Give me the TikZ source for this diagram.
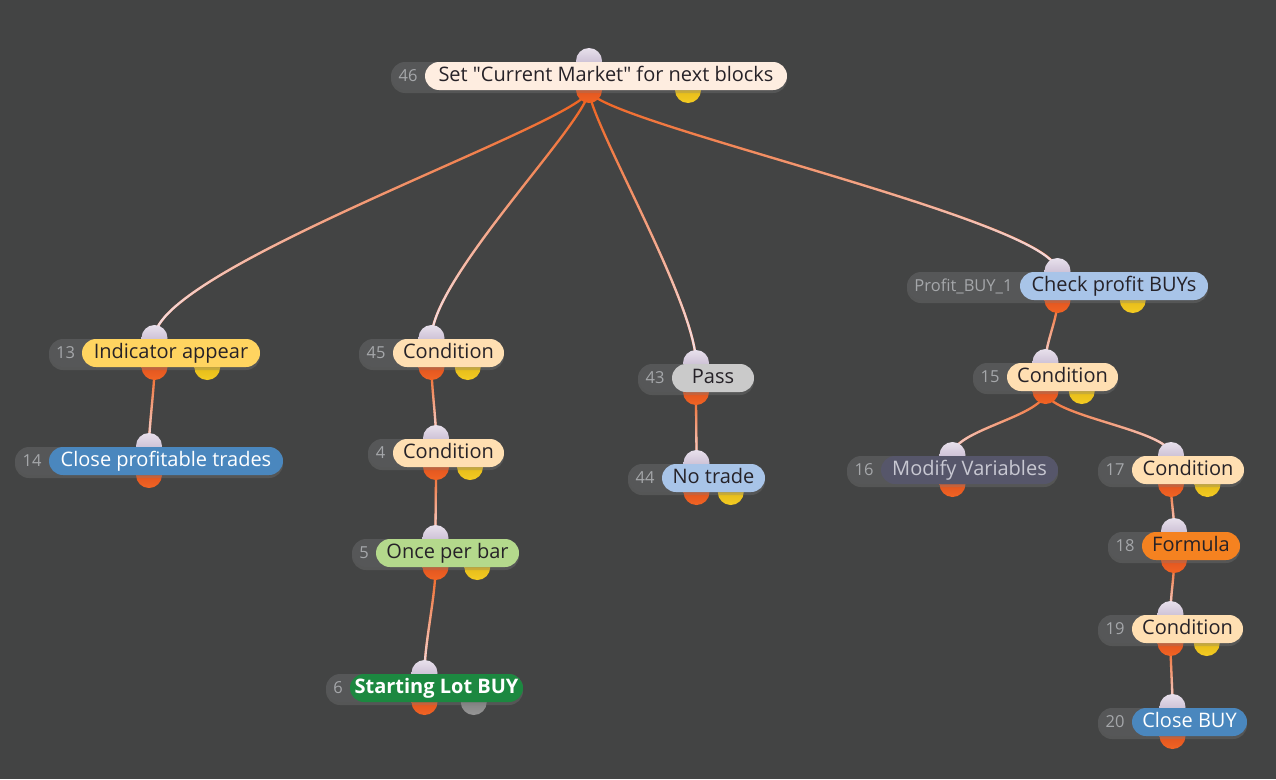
\documentclass[tikz,border=0pt]{standalone}
\usepackage{fontspec}
\setmainfont{Open Sans}
\usepackage{tikz}
\usetikzlibrary{fadings,shadows}
\definecolor{canvas}{RGB}{67,68,68}
\definecolor{blockgrey}{RGB}{86,87,88}
\definecolor{idgrey}{RGB}{165,167,170}
\definecolor{cInk}{RGB}{38,34,40}
\definecolor{cMist}{RGB}{200,200,210}
\definecolor{cCream}{RGB}{254,237,224}
\definecolor{cPeach}{RGB}{255,223,178}
\definecolor{cGold}{RGB}{255,212,96}
\definecolor{cSteel}{RGB}{74,135,190}
\definecolor{cLime}{RGB}{180,217,140}
\definecolor{cForest}{RGB}{28,136,64}
\definecolor{cSilver}{RGB}{202,202,202}
\definecolor{cSky}{RGB}{168,196,232}
\definecolor{cSlate}{RGB}{86,86,106}
\definecolor{cFlame}{RGB}{245,130,32}
\definecolor{wireorange}{RGB}{240,96,26}
\definecolor{wirepale}{RGB}{245,228,236}
\tikzfading[name=wirefade, top color=transparent!100, bottom color=transparent!0]
\pgfdeclarelayer{back}
\pgfsetlayers{back,main}

\begin{document}
\begin{tikzpicture}[x=1pt, y=-1pt,
    block/.style={fill=blockgrey, rounded corners=14pt, minimum height=28pt, inner sep=0pt,
                  drop shadow={shadow xshift=0pt, shadow yshift=-3pt, opacity=0.3}},
    pill/.style={rounded corners=14pt, minimum height=28pt, inner sep=0pt,
                 font=\fontsize{20}{24}\selectfont, text height=14pt, text depth=3pt},
    idtxt/.style={text=idgrey, font=\fontsize{16.5}{20}\selectfont, inner sep=0pt,
                  text height=12pt, text depth=2pt},
    port/.style={circle, minimum size=26pt, inner sep=0pt},
    inport/.style={port, top color={rgb,255:red,232;green,224;blue,236}, bottom color={rgb,255:red,184;green,170;blue,196}},
    outport/.style={port, top color={rgb,255:red,208;green,70;blue,26}, bottom color={rgb,255:red,242;green,100;blue,36}},
    yport/.style={port, top color={rgb,255:red,214;green,170;blue,18}, bottom color={rgb,255:red,244;green,204;blue,34}},
    gport/.style={port, top color={rgb,255:red,112;green,112;blue,112}, bottom color={rgb,255:red,150;green,150;blue,150}},
    noport/.style={inner sep=0pt, minimum size=0pt},
    wire/.style={draw=wireorange, line width=2.3pt,
                 postaction={draw=wirepale, line width=2.3pt, path fading=wirefade}}]

  % blocks: name / id / grey left / label left / right / y / fill / text / extra port / label
  \foreach \n/\idt/\gl/\cl/\cr/\y/\fc/\tc/\ys/\txt in {
      46/46/391/425/787/76/cCream/cInk/yport/{Set \textquotedbl Current Market\textquotedbl{} for next blocks},
      13/13/49/82/260/353/cGold/cInk/yport/{Indicator appear},
      14/14/15/49/283/461/cSteel/white/noport/{Close profitable trades},
      45/45/359/393/504/353/cPeach/cInk/yport/Condition,
      4/4/368/393/504/453/cPeach/cInk/yport/Condition,
      5/5/352/376/519/553/cLime/cInk/yport/{Once per bar},
      6/6/326/350/523/688/cForest/white/gport/{\bfseries Starting Lot BUY},
      43/43/638/672/754/378/cSilver/cInk/noport/Pass,
      44/44/628/662/765/478/cSky/cInk/yport/{No trade},
      pb/{Profit\_BUY\_1}/907/1020/1208/286/cSky/cInk/yport/{Check profit BUYs},
      15/15/973/1007/1118/377/cPeach/cInk/yport/Condition,
      16/16/847/881/1058/470/cSlate/cMist/noport/{Modify Variables},
      17/17/1098/1132/1244/470/cPeach/cInk/yport/Condition,
      18/18/1108/1142/1240/546/cFlame/cInk/noport/Formula,
      19/19/1098/1132/1243/629/cPeach/cInk/yport/Condition,
      20/20/1098/1132/1247/722/cSteel/white/noport/{Close BUY}} {
    \pgfmathsetmacro\xm{(\gl+\cr)/2}
    \pgfmathsetmacro\xq{\gl+0.75*(\cr-\gl)}
    \pgfmathsetmacro\wb{\cr-\gl}
    \pgfmathsetmacro\wc{\cr-\cl}
    \node[inport] (b\n-in) at (\xm,\y-15) {};
    \node[outport] (b\n-out) at (\xm,\y+14) {};
    \node[\ys] (b\n-aux) at (\xq,\y+14) {};
    \node[block, minimum width=\wb pt] (b\n) at (\xm,\y) {};
    \node[pill, fill=\fc, text=\tc, minimum width=\wc pt] (b\n-txt) at ({(\cl+\cr)/2},\y) {\txt};
    \node[idtxt] (b\n-id) at ({(\gl+\cl)/2},\y) {\idt};
  }

  \begin{pgfonlayer}{back}
    \fill[canvas] (0,0) rectangle (1276,779);
    \draw[wire] (b46-out.center) .. controls +(0,30) and +(0,-70) .. (b13-in.center);
    \draw[wire] (b46-out.center) .. controls +(0,30) and +(0,-60) .. (b45-in.center);
    \draw[wire] (b46-out.center) .. controls +(0,30) and +(0,-60) .. (b43-in.center);
    \draw[wire] (b46-out.center) .. controls +(0,30) and +(0,-50) .. (bpb-in.center);
    \draw[wire] (b13-out.center) .. controls +(0,20) and +(0,-20) .. (b14-in.center);
    \draw[wire] (b45-out.center) .. controls +(0,20) and +(0,-20) .. (b4-in.center);
    \draw[wire] (b4-out.center) .. controls +(0,20) and +(0,-20) .. (b5-in.center);
    \draw[wire] (b5-out.center) .. controls +(0,30) and +(0,-30) .. (b6-in.center);
    \draw[wire] (b43-out.center) .. controls +(0,20) and +(0,-20) .. (b44-in.center);
    \draw[wire] (bpb-out.center) .. controls +(0,20) and +(0,-20) .. (b15-in.center);
    \draw[wire] (b15-out.center) .. controls +(0,25) and +(0,-25) .. (b16-in.center);
    \draw[wire] (b15-out.center) .. controls +(0,25) and +(0,-25) .. (b17-in.center);
    \draw[wire] (b17-out.center) .. controls +(0,20) and +(0,-20) .. (b18-in.center);
    \draw[wire] (b18-out.center) .. controls +(0,20) and +(0,-20) .. (b19-in.center);
    \draw[wire] (b19-out.center) .. controls +(0,20) and +(0,-20) .. (b20-in.center);
  \end{pgfonlayer}
\end{tikzpicture}
\end{document}
